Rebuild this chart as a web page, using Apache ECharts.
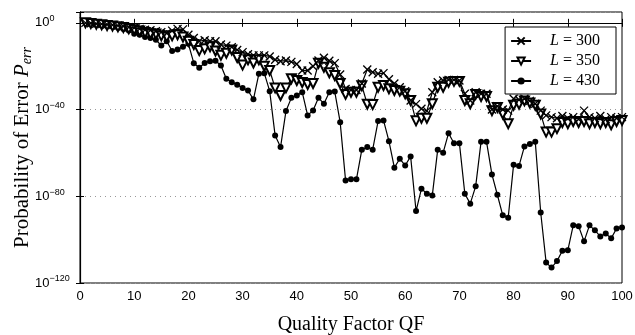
<!DOCTYPE html>
<html>
<head>
    <meta charset="utf-8" />
    <title>Perr vs QF</title>
    <script src="https://cdn.jsdelivr.net/npm/echarts@6/dist/echarts.min.js"></script>
</head>
<body style="margin:0;background:#fff">
<div id="main" style="width:635px;height:335px;"></div>
<script type="text/javascript">
    // x = quality factor, series values are log10(Perr)
    var qf = [];
    for (var i = 1; i <= 100; i++) { qf.push(i); }

    var l300 = [0, -0.2, -0.4, -0.6, -0.8, -1.0, -1.3, -1.6, -2.0, -2.3,
        -2.8, -3.2, -3.4, -3.9, -4.3, -4.8, -3.6, -2.8, -3.0, -5.5,
        -7.0, -8.5, -8.0, -8.5, -8.5, -10.0, -10.5, -11.2, -12.5, -13.5,
        -14.5, -15.0, -15.0, -15.0, -15.5, -17.0, -17.7, -17.4, -18.0, -19.0,
        -22.0, -22.0, -20.0, -17.4, -16.1, -17.5, -18.6, -23.8, -30.5, -31.0,
        -31.0, -28.0, -21.5, -22.8, -23.5, -23.2, -26.0, -28.0, -29.7, -31.5,
        -35.8, -37.5, -39.6, -40.6, -32.0, -27.4, -26.6, -26.3, -26.3, -26.6,
        -32.7, -35.8, -32.0, -32.7, -32.7, -40.0, -38.5, -40.0, -40.5, -35.0,
        -35.5, -35.0, -36.0, -37.3, -40.5, -42.7, -43.5, -44.0, -43.0, -44.0,
        -43.5, -44.5, -40.5, -43.5, -44.0, -43.0, -44.5, -43.5, -44.0, -43.5];

    var l350 = [0, -0.3, -0.6, -0.9, -1.2, -1.5, -1.8, -2.2, -2.7, -3.2,
        -3.8, -4.5, -5.0, -5.2, -6.0, -6.5, -6.0, -5.5, -6.5, -8.5,
        -10.0, -12.8, -12.0, -11.0, -13.0, -15.0, -14.0, -12.5, -16.0, -19.5,
        -17.0, -18.5, -17.0, -20.0, -22.0, -30.0, -33.5, -30.0, -25.8, -26.6,
        -27.5, -28.4, -28.0, -18.6, -20.5, -23.0, -24.3, -28.0, -33.0, -32.0,
        -32.0, -29.0, -37.5, -37.7, -29.7, -28.9, -30.4, -31.2, -31.5, -32.7,
        -35.8, -45.2, -44.0, -44.0, -37.3, -29.7, -29.7, -27.4, -27.0, -27.0,
        -35.8, -37.3, -33.0, -34.0, -34.0, -40.5, -39.0, -42.0, -46.5, -38.0,
        -37.5, -36.0, -37.0, -38.0, -42.0, -50.4, -50.4, -48.8, -46.0, -46.5,
        -45.5, -46.0, -45.5, -46.5, -46.0, -46.5, -46.0, -47.0, -45.5, -45.0];

    var l430 = [0, -0.3, -0.6, -1.0, -1.4, -1.8, -2.3, -2.8, -3.5, -5.0,
        -5.5, -6.5, -7.0, -7.8, -10.5, -8.5, -13.0, -12.3, -11.0, -9.7,
        -18.6, -20.7, -18.5, -17.7, -17.5, -19.7, -25.8, -27.4, -28.5, -30.0,
        -31.2, -35.3, -23.5, -23.2, -31.5, -52.0, -57.3, -40.7, -34.6, -33.5,
        -32.0, -42.7, -40.4, -34.6, -37.3, -32.0, -31.7, -45.8, -72.7, -72.2,
        -72.2, -58.5, -57.3, -58.5, -45.3, -45.0, -54.6, -66.8, -62.7, -65.8,
        -61.6, -86.8, -76.5, -78.8, -79.6, -58.5, -59.9, -50.9, -55.5, -55.5,
        -78.8, -83.4, -75.4, -54.8, -54.8, -69.9, -79.3, -88.8, -89.9, -65.4,
        -66.0, -57.0, -55.9, -54.9, -87.5, -110.6, -112.9, -109.9, -105.1, -104.9,
        -93.4, -93.8, -100.8, -93.4, -95.7, -98.5, -97.2, -99.4, -94.9, -94.4];

    var seriesNames = ['300', '350', '430'];
    var yTicks = [-120, -80, -40, 0];

    function pairs(vals) {
        var out = [];
        for (var k = 0; k < vals.length; k++) { out.push([qf[k], vals[k]]); }
        return out;
    }

    var crossPath = 'path://M0,0L10,10M0,10L10,0';
    var serif = '"Liberation Serif", "Times New Roman", serif';
    var sans = '"Liberation Sans", Arial, sans-serif';

    var option = {
        animation: false,
        backgroundColor: '#fff',
        grid: {
            left: 80, right: 13, top: 12, bottom: 52,
            outerBoundsMode: 'none',
            show: true, borderColor: '#000', borderWidth: 1
        },
        legend: {
            orient: 'vertical',
            right: 19, top: 27,
            backgroundColor: '#fff',
            borderColor: '#000', borderWidth: 1,
            padding: [6, 16, 5, 5],
            itemGap: 4,
            itemWidth: 20, itemHeight: 9,
            textStyle: {
                fontFamily: serif, fontSize: 16, color: '#000', padding: [0, 0, 0, 14],
                rich: { i: { fontFamily: serif, fontSize: 16, fontStyle: 'italic', color: '#000' } }
            },
            formatter: function (n) { return '{i|L} = ' + n; },
            data: seriesNames
        },
        xAxis: [{
            type: 'value', min: 0, max: 100, interval: 10,
            name: 'Quality Factor QF', nameLocation: 'middle', nameGap: 32,
            nameTextStyle: { fontFamily: serif, fontSize: 20, color: '#000' },
            axisLine: { lineStyle: { color: '#000', width: 1.2 } },
            axisTick: { inside: true, length: 4, lineStyle: { color: '#000' } },
            axisLabel: { fontFamily: sans, fontSize: 13, color: '#000', margin: 7 },
            splitLine: { show: false }
        }, {
            type: 'value', min: 0, max: 100, interval: 10, position: 'top',
            axisLine: { lineStyle: { color: '#000' } },
            axisTick: { inside: true, length: 4, lineStyle: { color: '#000' } },
            axisLabel: { show: false }, splitLine: { show: false }
        }],
        yAxis: [{
            type: 'value', min: -120, max: 5, interval: 40,
            name: '{n|Probability of Error }{p|P}{s|err}',
            nameLocation: 'middle', nameGap: 46, nameRotate: 90,
            nameMoveOverlap: false,
            nameTextStyle: {
                rich: {
                    n: { fontFamily: serif, fontSize: 21, color: '#000' },
                    p: { fontFamily: serif, fontSize: 21, fontStyle: 'italic', color: '#000' },
                    s: { fontFamily: serif, fontSize: 14, fontStyle: 'italic', color: '#000', verticalAlign: 'bottom', padding: [9, 0, 0, 0] }
                }
            },
            axisLine: { lineStyle: { color: '#000', width: 1.2 } },
            axisTick: { inside: true, length: 4, lineStyle: { color: '#000' } },
            axisLabel: {
                margin: 45, align: 'left',
                formatter: function (v) {
                    if (yTicks.indexOf(v) < 0) return '';
                    return '{b|10}{s|' + (v === 0 ? '0' : '\u2212' + (-v)) + '}';
                },
                rich: {
                    b: { fontFamily: sans, fontSize: 13, color: '#000' },
                    s: { fontFamily: sans, fontSize: 9, color: '#000', verticalAlign: 'top', padding: [0, 0, 8, 0] }
                }
            },
            splitLine: { show: true, lineStyle: { color: '#999', type: [1, 4], width: 1 } }
        }, {
            type: 'value', min: -120, max: 5, interval: 40, position: 'right',
            axisLine: { lineStyle: { color: '#000' } },
            axisTick: { inside: true, length: 4, lineStyle: { color: '#000' } },
            axisLabel: { show: false }, splitLine: { show: false }
        }],
        series: [{
            name: '300', type: 'line', data: pairs(l300),
            symbol: crossPath, symbolSize: 8,
            itemStyle: { color: '#000', borderColor: '#000', borderWidth: 1.3 },
            lineStyle: { color: '#000', width: 1.2 }, z: 4
        }, {
            name: '350', type: 'line', data: pairs(l350),
            symbol: 'emptyTriangle', symbolRotate: 180, symbolSize: 9,
            itemStyle: { color: '#000', borderColor: '#000', borderWidth: 1.2 },
            lineStyle: { color: '#000', width: 1.2 }, z: 3
        }, {
            name: '430', type: 'line', data: pairs(l430),
            symbol: 'circle', symbolSize: 6,
            itemStyle: { color: '#000' },
            lineStyle: { color: '#000', width: 1.2 }, z: 2
        }]
    };

    var myChart = echarts.init(document.getElementById('main'));
    myChart.setOption(option);
</script>
</body>
</html>
